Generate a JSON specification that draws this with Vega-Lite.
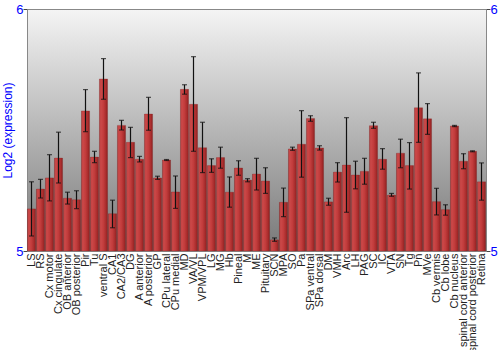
{
  "$schema": "https://vega.github.io/schema/vega-lite/v6.json",
  "width": 459,
  "height": 242,
  "autosize": "none",
  "padding": {"left": 27, "top": 9, "right": 14, "bottom": 99},
  "background": "white",
  "config": {
    "font": "Liberation Sans",
    "view": {
      "stroke": "#888888",
      "strokeWidth": 1,
      "fill": {"gradient": "linear", "x1": 0, "y1": 0, "x2": 0, "y2": 1,
        "stops": [{"offset": 0, "color": "#f4f4f4"}, {"offset": 1, "color": "#787878"}]}
    }
  },
  "data": {"values": [
    {"region": "LS", "v": 5.174, "lo": 5.062, "hi": 5.286},
    {"region": "RS", "v": 5.256, "lo": 5.219, "hi": 5.296},
    {"region": "Cx motor", "v": 5.302, "lo": 5.207, "hi": 5.398},
    {"region": "Cx cingulate", "v": 5.384, "lo": 5.281, "hi": 5.491},
    {"region": "OB anterior", "v": 5.218, "lo": 5.194, "hi": 5.243},
    {"region": "OB posterior", "v": 5.212, "lo": 5.175, "hi": 5.249},
    {"region": "Pir", "v": 5.579, "lo": 5.493, "hi": 5.667},
    {"region": "Tu", "v": 5.388, "lo": 5.365, "hi": 5.412},
    {"region": "ventral S", "v": 5.711, "lo": 5.627, "hi": 5.795},
    {"region": "CA1", "v": 5.154, "lo": 5.096, "hi": 5.210},
    {"region": "CA2/CA3", "v": 5.519, "lo": 5.500, "hi": 5.540},
    {"region": "DG", "v": 5.449, "lo": 5.386, "hi": 5.511},
    {"region": "A anterior", "v": 5.379, "lo": 5.368, "hi": 5.391},
    {"region": "A posterior", "v": 5.566, "lo": 5.499, "hi": 5.635},
    {"region": "GP", "v": 5.302, "lo": 5.296, "hi": 5.309},
    {"region": "CPu lateral", "v": 5.376, "lo": 5.374, "hi": 5.378},
    {"region": "CPu medial", "v": 5.244, "lo": 5.176, "hi": 5.310},
    {"region": "MD", "v": 5.668, "lo": 5.648, "hi": 5.687},
    {"region": "VA/VL", "v": 5.606, "lo": 5.412, "hi": 5.803},
    {"region": "VPM/VPL", "v": 5.427, "lo": 5.324, "hi": 5.532},
    {"region": "LG", "v": 5.353, "lo": 5.325, "hi": 5.381},
    {"region": "MG", "v": 5.386, "lo": 5.342, "hi": 5.429},
    {"region": "Hb", "v": 5.243, "lo": 5.181, "hi": 5.306},
    {"region": "Pineal", "v": 5.343, "lo": 5.313, "hi": 5.373},
    {"region": "M", "v": 5.293, "lo": 5.286, "hi": 5.299},
    {"region": "ME", "v": 5.318, "lo": 5.252, "hi": 5.383},
    {"region": "Pituitary", "v": 5.289, "lo": 5.238, "hi": 5.344},
    {"region": "SCN", "v": 5.046, "lo": 5.040, "hi": 5.054},
    {"region": "MPA", "v": 5.201, "lo": 5.142, "hi": 5.260},
    {"region": "SO", "v": 5.422, "lo": 5.416, "hi": 5.429},
    {"region": "Pa", "v": 5.441, "lo": 5.305, "hi": 5.580},
    {"region": "SPa ventral", "v": 5.548, "lo": 5.536, "hi": 5.559},
    {"region": "SPa dorsal", "v": 5.426, "lo": 5.417, "hi": 5.435},
    {"region": "DM", "v": 5.203, "lo": 5.189, "hi": 5.218},
    {"region": "VMH", "v": 5.326, "lo": 5.285, "hi": 5.365},
    {"region": "Arc", "v": 5.355, "lo": 5.160, "hi": 5.551},
    {"region": "LH", "v": 5.314, "lo": 5.257, "hi": 5.371},
    {"region": "PAG", "v": 5.329, "lo": 5.276, "hi": 5.383},
    {"region": "SC", "v": 5.518, "lo": 5.507, "hi": 5.532},
    {"region": "IC", "v": 5.379, "lo": 5.338, "hi": 5.423},
    {"region": "VTA", "v": 5.231, "lo": 5.226, "hi": 5.238},
    {"region": "SN", "v": 5.404, "lo": 5.344, "hi": 5.462},
    {"region": "Tg", "v": 5.353, "lo": 5.256, "hi": 5.448},
    {"region": "Pn", "v": 5.592, "lo": 5.449, "hi": 5.736},
    {"region": "MVe", "v": 5.546, "lo": 5.482, "hi": 5.609},
    {"region": "Cb vermis", "v": 5.204, "lo": 5.149, "hi": 5.259},
    {"region": "Cb lobe", "v": 5.171, "lo": 5.148, "hi": 5.191},
    {"region": "Cb nucleus", "v": 5.517, "lo": 5.514, "hi": 5.519},
    {"region": "spinal cord anterior", "v": 5.371, "lo": 5.340, "hi": 5.402},
    {"region": "spinal cord posterior", "v": 5.412, "lo": 5.410, "hi": 5.414},
    {"region": "Retina", "v": 5.286, "lo": 5.210, "hi": 5.364}
  ]},
  "encoding": {
    "x": {"field": "region", "type": "nominal", "sort": null,
      "scale": {"paddingInner": 0.1, "paddingOuter": 0.05},
      "axis": {"title": null, "labelAngle": -90, "labelFontSize": 11, "labelColor": "#222222",
        "ticks": false, "domain": false, "labelPadding": 2}}
  },
  "layer": [
    {
      "mark": {"type": "bar", "stroke": "#8a1818", "strokeWidth": 0.5, "strokeOpacity": 0.5,
        "color": {"gradient": "linear", "x1": 0, "y1": 0, "x2": 1, "y2": 0,
          "stops": [
            {"offset": 0, "color": "#a02626"},
            {"offset": 0.15, "color": "#cc4a4a"},
            {"offset": 0.5, "color": "#c23c3c"},
            {"offset": 0.85, "color": "#a42a2a"},
            {"offset": 1, "color": "#801616"}]}},
      "encoding": {
        "y": {"field": "v", "type": "quantitative",
          "scale": {"domain": [5, 6], "nice": false, "zero": false},
          "axis": {"orient": "left", "title": "Log2 (expression)", "titleColor": "#0000ff",
            "titleFontSize": 12, "titleFontWeight": "normal", "titlePadding": 1,
            "values": [5, 6], "format": "d", "labelColor": "#0000ff", "labelFontSize": 13,
            "domainColor": "#888888", "tickColor": "#444444", "tickSize": 4, "grid": false,
            "labelPadding": 0}},
        "y2": {"datum": 5}
      }
    },
    {
      "mark": {"type": "rule", "color": "#111111", "strokeWidth": 1.2},
      "encoding": {
        "y": {"field": "lo", "type": "quantitative",
          "axis": {"orient": "right", "title": null, "values": [5, 6], "format": "d", "labelColor": "#0000ff",
            "labelFontSize": 13, "domainColor": "#888888", "tickColor": "#444444", "tickSize": 4,
            "grid": false, "labelPadding": 0}},
        "y2": {"field": "hi"}
      }
    },
    {
      "mark": {"type": "tick", "color": "#111111", "size": 5, "thickness": 1.2, "orient": "horizontal"},
      "encoding": {"y": {"field": "lo", "type": "quantitative", "axis": null}}
    },
    {
      "mark": {"type": "tick", "color": "#111111", "size": 5, "thickness": 1.2, "orient": "horizontal"},
      "encoding": {"y": {"field": "hi", "type": "quantitative", "axis": null}}
    }
  ],
  "resolve": {"axis": {"y": "independent"}}
}
